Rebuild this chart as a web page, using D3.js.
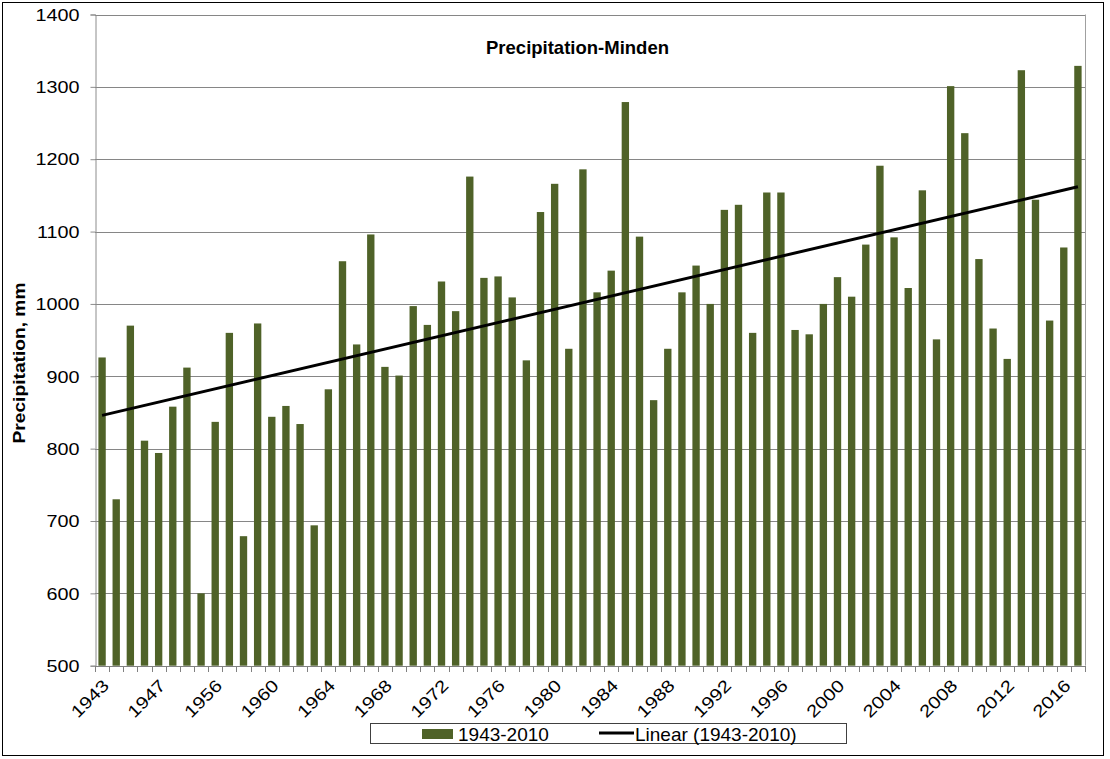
<!DOCTYPE html>
<html>
<head>
<meta charset="utf-8">
<script src="https://cdn.jsdelivr.net/npm/d3@7/dist/d3.min.js"></script>
<style>
  html, body { margin: 0; padding: 0; background: #fff; }
  svg { display: block; font-family: "Liberation Sans", Arial, sans-serif; }
</style>
</head>
<body>
<svg id="chart" width="1110" height="759"></svg>
<script>
// ---- data ----
const years = [1943,1944,1945,1946,1947,1948,1949,
  1955,1956,1957,1958,1959,1960,1961,1962,1963,1964,1965,1966,1967,1968,1969,
  1970,1971,1972,1973,1974,1975,1976,1977,1978,1979,1980,1981,1982,1983,1984,
  1985,1986,1987,1988,1989,1990,1991,1992,1993,1994,1995,1996,1997,1998,1999,
  2000,2001,2002,2003,2004,2005,2006,2007,2008,2009,2010,2011,2012,2013,2014,
  2015,2016,2017];
const precipitation = [926,730,970,811,794,858,912,600,837,960,
  679,973,844,859,834,694,882,1059,944,1096,
  913,901,997,971,1031,990,1176,1036,1038,1009,
  922,1127,1166,938,1186,1016,1046,1279,1093,867,
  938,1016,1053,1000,1130,1137,960,1154,1154,964,
  958,1000,1037,1010,1082,1191,1092,1022,1157,951,
  1301,1236,1062,966,924,1323,1144,977,1078,1329];
const trendEnds = [846, 1162];          // linear trend value at first and last bar
const yTicks = [500,600,700,800,900,1000,1100,1200,1300,1400];
const labelEvery = 4;
const titleText = "Precipitation-Minden";
const yTitle = "Precipitation, mm";
const seriesName = "1943-2010";
const trendName = "Linear (1943-2010)";

// ---- layout ----
const svg = d3.select("#chart");
const L = 95, R = 1085, T = 14.5, B = 665.7;
const barColor = "#4f6228";
const gridColor = "#868686";

svg.append("rect").attr("x", 2.5).attr("y", 2.5).attr("width", 1101).attr("height", 753)
  .attr("fill", "#fff").attr("stroke", "#000").attr("stroke-width", 1);

const x = d3.scaleBand().domain(years).range([L, R]).paddingInner(0.48).paddingOuter(0.24);
const y = d3.scaleLinear().domain([500, 1400]).range([B, T]);

// gridlines
svg.append("g").selectAll("line").data(yTicks).join("line")
  .attr("x1", L).attr("x2", R)
  .attr("y1", d => Math.round(y(d)) + 0.5).attr("y2", d => Math.round(y(d)) + 0.5)
  .attr("stroke", gridColor).attr("stroke-width", 1);

// right frame line
svg.append("line").attr("x1", R + 0.5).attr("x2", R + 0.5).attr("y1", y(1400)).attr("y2", y(500))
  .attr("stroke", "#a0a0a0");

// bars
svg.append("g").selectAll("rect").data(years).join("rect")
  .attr("x", (d) => x(d))
  .attr("width", x.bandwidth())
  .attr("y", (d, i) => y(precipitation[i]))
  .attr("height", (d, i) => y(500) - y(precipitation[i]))
  .attr("fill", barColor);

// trend line
const xc = d => x(d) + x.bandwidth() / 2;
svg.append("line")
  .attr("x1", xc(years[0])).attr("y1", y(trendEnds[0]))
  .attr("x2", xc(years[years.length - 1])).attr("y2", y(trendEnds[1]))
  .attr("stroke", "#000").attr("stroke-width", 3);

// y axis
const yAxis = d3.axisLeft(y).tickValues(yTicks).tickFormat(d3.format("d")).tickSize(5).tickPadding(11);
const gy = svg.append("g").attr("transform", `translate(${Math.round(L) + 0.5},0)`).call(yAxis);
gy.select(".domain").attr("stroke", "#8c8c8c");
gy.selectAll(".tick line").attr("stroke", "#8c8c8c");
gy.selectAll(".tick text").attr("font-size", 16.5).attr("fill", "#000")
  .attr("font-family", "'Liberation Sans', Arial, sans-serif")
  .each(function () {
    const t = d3.select(this);
    const xx = +t.attr("x");
    t.attr("x", null).attr("dy", "0.35em")
     .attr("transform", `translate(${xx},0) scale(1.2,1)`);
  });

// x axis line
svg.append("line").attr("x1", L).attr("x2", R).attr("y1", Math.round(B) + 0.5).attr("y2", Math.round(B) + 0.5)
  .attr("stroke", "#808080");
// x ticks at band boundaries
const step = x.step();
const gap = (step - x.bandwidth()) / 2;
const bounds = years.map(d => x(d) - gap).concat([R]);
svg.append("g").selectAll("line").data(bounds).join("line")
  .attr("x1", d => Math.round(d) + 0.5).attr("x2", d => Math.round(d) + 0.5)
  .attr("y1", Math.round(B)).attr("y2", Math.round(B) + 6)
  .attr("stroke", "#808080");

// x labels
svg.append("g").selectAll("text").data(years.filter((d, i) => i % labelEvery === 0)).join("text")
  .attr("transform", d => `translate(${xc(d) + 8},${B + 21}) rotate(-45) scale(1.2,1)`)
  .attr("text-anchor", "end")
  .attr("font-size", 17)
  .attr("fill", "#000")
  .text(d => d);

// title
svg.append("text").attr("x", 577.5).attr("y", 54).attr("text-anchor", "middle")
  .attr("font-size", 18.5).attr("font-weight", "bold").attr("fill", "#000")
  .text(titleText);

// y axis title
svg.append("text")
  .attr("transform", `translate(25,363) rotate(-90) scale(1.2,1)`)
  .attr("text-anchor", "middle")
  .attr("font-size", 16).attr("font-weight", "bold").attr("fill", "#000")
  .text(yTitle);

// legend
const lg = svg.append("g");
lg.append("rect").attr("x", 370.5).attr("y", 723.5).attr("width", 476).attr("height", 20)
  .attr("fill", "#fff").attr("stroke", "#404040");
lg.append("rect").attr("x", 422).attr("y", 729).attr("width", 31).attr("height", 10).attr("fill", barColor);
lg.append("text").attr("x", 458).attr("y", 740.5).attr("font-size", 19).attr("fill", "#000").text(seriesName);
lg.append("line").attr("x1", 599).attr("x2", 634).attr("y1", 733).attr("y2", 733)
  .attr("stroke", "#000").attr("stroke-width", 3);
lg.append("text").attr("x", 635).attr("y", 740.5).attr("font-size", 19).attr("fill", "#000").text(trendName);
</script>
</body>
</html>
